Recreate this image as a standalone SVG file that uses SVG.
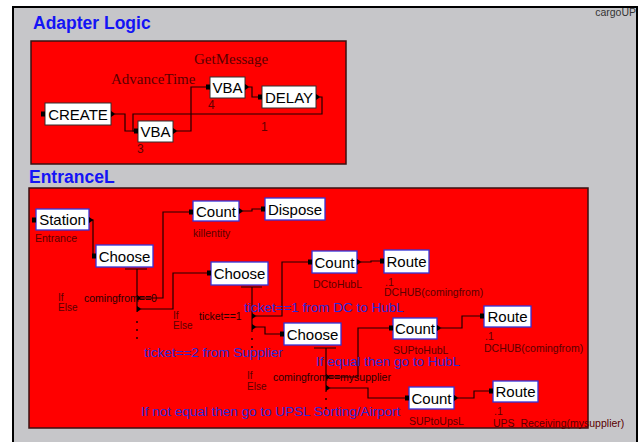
<svg xmlns="http://www.w3.org/2000/svg" width="644" height="442" viewBox="0 0 644 442">
<style>
.bg{fill:#c6c6c9}
.frame{fill:none;stroke:#000;stroke-width:2}
.panel{fill:#ff0000;stroke:#3a1010;stroke-width:1.5}
.title{font-family:"Liberation Sans",Arial,sans-serif;font-weight:bold;font-size:17.5px;fill:#1414f5}
.nb{fill:#fff;stroke:#303030;stroke-width:1}
.ne{fill:#fff;stroke:#3434d8;stroke-width:1.3}
.nt{font-family:"Liberation Sans",Arial,sans-serif;font-size:15px;fill:#000;text-anchor:middle}
.lb{font-family:"Liberation Sans",Arial,sans-serif;font-size:10.5px;fill:#5a0000}
.ie{font-family:"Liberation Sans",Arial,sans-serif;font-size:10px;fill:#5a0000}
.cd{font-family:"Liberation Sans",Arial,sans-serif;font-size:10.5px;fill:#2a0000}
.num{font-family:"Liberation Sans",Arial,sans-serif;font-size:12px;fill:#600000}
.serif{font-family:"Liberation Serif","Times New Roman",serif;font-size:15px;fill:#5a0000}
.blue{font-family:"Liberation Sans",Arial,sans-serif;font-size:13.5px;fill:#2a2ad8}
.small{font-family:"Liberation Sans",Arial,sans-serif;font-size:10.5px;fill:#333}
.wire{fill:none;stroke:#200000;stroke-width:1.2}
.port{fill:#000}
</style>
<defs>
<rect id="inp" class="port" x="-4" y="-2.5" width="4" height="5"/>
<path id="outp" class="port" d="M0,-3 L4.5,0 L0,3 Z"/>
<circle id="dot" r="1" fill="#200000"/>
</defs>

<rect width="644" height="442" fill="#fff"/>
<rect class="bg" x="13" y="7" width="624" height="440"/>
<rect class="frame" x="13" y="7" width="624" height="440"/>
<text class="small" x="636" y="16" text-anchor="end">cargoUP</text>

<text class="title" x="33" y="29">Adapter Logic</text>
<rect class="panel" x="31" y="41" width="315" height="123"/>
<text class="title" x="29" y="183">EntranceL</text>
<rect class="panel" x="29" y="188" width="559" height="240"/>

<g id="connectors">
<path class="wire" d="M115,114 H125 V131 H134"/>
<path class="wire" d="M177,131 H191 V87 H206"/>
<path class="wire" d="M249,87 H252 V97 H258"/>
<path class="wire" d="M320,97 H322 V114 H133 V131 H134"/>
<path class="wire" d="M89,220 H93 V256 H92"/>
<path class="wire" d="M125,269 H147 M137,269 V312"/>
<path class="wire" d="M141,298 H163 V212 H189"/>
<path class="wire" d="M141,309 H173 V273 H207"/>
<path class="wire" d="M243,211 H252 V209 H261"/>
<path class="wire" d="M241,287 H262 M252,287 V332"/>
<path class="wire" d="M256,316 H282 V262 H308"/>
<path class="wire" d="M256,327 H265 V334 H280"/>
<path class="wire" d="M361,262 H371 V261 H380"/>
<path class="wire" d="M314,348 H336 M326,348 V392"/>
<path class="wire" d="M330,377 H358 V328 H389"/>
<path class="wire" d="M330,388 H368 V398 H405"/>
<path class="wire" d="M441,328 H462 V316 H480"/>
<path class="wire" d="M458,398 H474 V391 H489"/>
<use href="#outp" x="137" y="298"/>
<use href="#outp" x="137" y="309"/>
<use href="#outp" x="252" y="316"/>
<use href="#outp" x="252" y="327"/>
<use href="#outp" x="326" y="377"/>
<use href="#outp" x="326" y="388"/>
<use href="#dot" x="137" y="322"/>
<use href="#dot" x="137" y="330"/>
<use href="#dot" x="137" y="338"/>
<use href="#dot" x="252" y="339"/>
<use href="#dot" x="252" y="347"/>
<use href="#dot" x="326" y="399"/>
<use href="#dot" x="326" y="408"/>
</g>

<text class="serif" x="194" y="64">GetMessage</text>
<text class="serif" x="111" y="84">AdvanceTime</text>

<g id="create">
<rect class="nb" x="45" y="103" width="66" height="22"/>
<text class="nt" x="78" y="119.5">CREATE</text>
<use href="#inp" x="45" y="114"/><use href="#outp" x="111" y="114"/>
</g>
<g id="vba3">
<rect class="nb" x="138" y="121" width="35" height="21"/>
<text class="nt" x="155.5" y="137">VBA</text>
<use href="#inp" x="138" y="131"/><use href="#outp" x="173" y="131"/>
<text class="num" x="137" y="153">3</text>
</g>
<g id="vba4">
<rect class="nb" x="210" y="77" width="35" height="21"/>
<text class="nt" x="227.5" y="93">VBA</text>
<use href="#inp" x="210" y="87"/><use href="#outp" x="245" y="87"/>
<text class="num" x="208" y="109">4</text>
</g>
<g id="delay">
<rect class="nb" x="262" y="86" width="54" height="22"/>
<text class="nt" x="289" y="102.5">DELAY</text>
<use href="#inp" x="262" y="97"/><use href="#outp" x="316" y="97"/>
<text class="num" x="261" y="131">1</text>
</g>

<g id="station">
<rect class="ne" x="36" y="209" width="53" height="21"/>
<text class="nt" x="62.5" y="225">Station</text>
<use href="#inp" x="36" y="220"/><use href="#outp" x="89" y="220"/>
<text class="lb" x="35" y="242">Entrance</text>
</g>
<g id="choose1">
<rect class="ne" x="96" y="245" width="57" height="22"/>
<text class="nt" x="124.5" y="261.5">Choose</text>
<use href="#inp" x="96" y="256"/>
<text class="ie" x="58" y="301">If</text>
<text class="ie" x="58" y="310.5">Else</text>
<text class="cd" x="84" y="302">comingfrom==0</text>
</g>
<g id="count1">
<rect class="ne" x="193" y="201" width="46" height="20"/>
<text class="nt" x="216" y="216.5">Count</text>
<use href="#inp" x="193" y="212"/><use href="#outp" x="239" y="211"/>
<text class="lb" x="193" y="237">killentity</text>
</g>
<g id="dispose">
<rect class="ne" x="265" y="198" width="60" height="22"/>
<text class="nt" x="295" y="214.5">Dispose</text>
<use href="#inp" x="265" y="209"/>
</g>
<g id="choose2">
<rect class="ne" x="211" y="262" width="57" height="23"/>
<text class="nt" x="239.5" y="279">Choose</text>
<use href="#inp" x="211" y="273"/>
<text class="ie" x="173" y="318.5">If</text>
<text class="ie" x="173" y="329">Else</text>
<text class="cd" x="199" y="320">ticket==1</text>
</g>
<g id="countDC">
<rect class="ne" x="312" y="251" width="45" height="22"/>
<text class="nt" x="334.5" y="267.5">Count</text>
<use href="#inp" x="312" y="262"/><use href="#outp" x="357" y="262"/>
<text class="lb" x="313" y="288">DCtoHubL</text>
</g>
<g id="route1">
<rect class="ne" x="384" y="250" width="45" height="23"/>
<text class="nt" x="406.5" y="267">Route</text>
<use href="#inp" x="384" y="261"/>
<text class="lb" x="385" y="286">.1</text>
<text class="lb" x="384" y="296">DCHUB(comingfrom)</text>
</g>
<g id="choose3">
<rect class="ne" x="284" y="323" width="57" height="22"/>
<text class="nt" x="312.5" y="339.5">Choose</text>
<use href="#inp" x="284" y="334"/>
<text class="ie" x="247" y="379">If</text>
<text class="ie" x="247" y="390">Else</text>
<text class="cd" x="273" y="381">comingfrom==mysupplier</text>
</g>
<g id="countSH">
<rect class="ne" x="393" y="318" width="44" height="21"/>
<text class="nt" x="415" y="334">Count</text>
<use href="#inp" x="393" y="328"/><use href="#outp" x="437" y="328"/>
<text class="lb" x="393" y="353.5">SUPtoHubL</text>
</g>
<g id="route2">
<rect class="ne" x="484" y="306" width="47" height="21"/>
<text class="nt" x="507.5" y="322">Route</text>
<use href="#inp" x="484" y="316"/>
<text class="lb" x="485" y="340">.1</text>
<text class="lb" x="484" y="352">DCHUB(comingfrom)</text>
</g>
<g id="countSU">
<rect class="ne" x="409" y="387" width="45" height="22"/>
<text class="nt" x="431.5" y="403.5">Count</text>
<use href="#inp" x="409" y="398"/><use href="#outp" x="454" y="398"/>
<text class="lb" x="409" y="425">SUPtoUpsL</text>
</g>
<g id="route3">
<rect class="ne" x="493" y="381" width="45" height="21"/>
<text class="nt" x="515.5" y="397">Route</text>
<use href="#inp" x="493" y="391"/>
<text class="lb" x="494" y="415">.1</text>
<text class="lb" x="493" y="427" xml:space="preserve">UPS  Receiving(mysupplier)</text>
</g>

<text class="blue" x="244" y="312">ticket==1 from DC to HubL</text>
<text class="blue" x="144" y="357">ticket==2 from Supplier</text>
<text class="blue" x="316" y="366">If equal then go to HubL</text>
<text class="blue" x="141" y="416">If not equal then go to UPSL Sorting/Airport</text>
</svg>
